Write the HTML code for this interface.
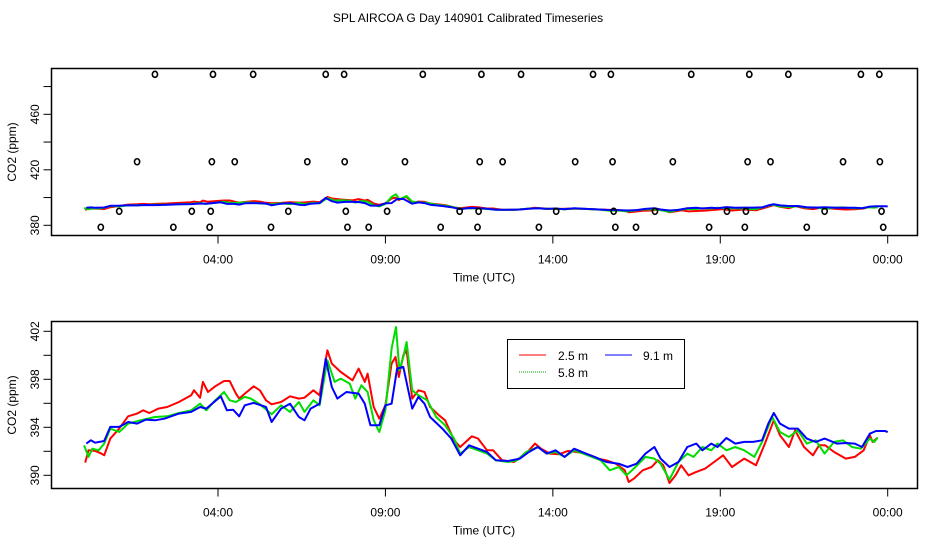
<!DOCTYPE html>
<html><head><meta charset="utf-8"><style>
body{margin:0;background:#fff;}
svg{display:block;font-family:"Liberation Sans",sans-serif;}
</style></head><body>
<svg id="chart" width="936" height="540" viewBox="0 0 936 540">
<rect width="936" height="540" fill="#fff"/>
<text x="468" y="22" text-anchor="middle" font-size="12">SPL AIRCOA G  Day 140901  Calibrated Timeseries</text>
<g id="top"></g>
<g id="bot"></g>
<g>
<rect x="507.5" y="339.5" width="177" height="49" fill="#fff" stroke="#000" stroke-width="1"/>
<line x1="519" y1="355" x2="546" y2="355" stroke="#ff0000" stroke-width="1"/>
<text x="558" y="360" font-size="12">2.5 m</text>
<line x1="605" y1="355" x2="632" y2="355" stroke="#0000ff" stroke-width="1"/>
<text x="643" y="360" font-size="12">9.1 m</text>
<line x1="519" y1="372" x2="546" y2="372" stroke="#00a000" stroke-width="1" stroke-dasharray="1,1"/>
<text x="558" y="377" font-size="12">5.8 m</text>
</g>
</svg>
<script>
// ---- data (time in minutes UTC, CO2 in ppm) ----
const redTime=[2,8,20,31,36,47,63,79,95,106,117,133,149,170,192,197,208,213,222,235,251,261,272,278,288,304,315,326,336,353,369,385,395,411,422,436,444,460,481,492,503,508,519,529,540,551,558,564,572,578,588,599,610,620,636,647,663,674,695,706,722,733,749,770,792,808,819,835,851,867,883,899,920,936,953,969,976,985,1001,1017,1028,1038,1049,1060,1070,1083,1097,1113,1129,1145,1161,1183,1204,1220,1236,1247,1263,1274,1290,1306,1317,1328,1344,1365,1381,1397,1408,1413,1422];
const redCO2=[391.06,392.08,392.03,391.81,391.67,393.06,393.89,394.92,395.14,395.42,395.19,395.56,395.69,396.11,396.67,397.08,396.47,397.78,396.94,397.42,397.86,397.86,396.81,396.39,396.81,397.42,397.08,396.25,395.92,396.11,396.58,396.39,396.47,397.08,396.67,400.42,399.31,398.61,397.92,398.89,397.78,398.47,395.69,394.72,395.83,399.31,399.86,398.19,400.0,400.42,396.39,397.08,396.94,395.69,395.0,394.58,392.92,392.36,393.25,393.06,392.08,392.08,391.25,391.11,391.81,392.64,392.22,391.81,391.75,392.03,391.94,391.81,391.39,391.25,390.97,390.42,389.44,389.72,390.42,390.69,391.25,390.83,389.36,390.0,390.83,390.0,390.28,390.56,391.11,391.67,390.69,391.39,390.83,392.64,394.58,393.33,392.36,393.75,392.36,391.67,392.5,392.5,391.94,391.39,391.53,392.08,393.33,392.78,393.14];
const greenTime=[0,8,15,26,36,47,63,79,101,127,149,170,192,208,219,235,251,261,272,288,299,315,336,353,369,385,395,411,422,436,449,460,476,486,497,508,519,529,540,551,559,565,572,578,588,599,615,631,647,663,674,690,706,722,738,760,776,792,813,829,845,861,878,894,910,926,942,958,972,985,1006,1022,1033,1049,1065,1081,1092,1108,1124,1135,1151,1167,1183,1201,1215,1233,1247,1263,1279,1295,1311,1327,1344,1360,1376,1392,1408,1416,1422];
const greenCO2=[392.5,391.53,392.22,392.08,392.64,393.89,393.61,394.31,394.58,394.86,394.92,395.19,395.42,395.97,395.42,396.25,396.94,396.25,396.11,396.53,396.39,395.92,395.08,395.83,395.28,396.11,395.28,396.25,395.83,399.58,397.78,398.06,397.64,396.39,397.5,396.94,394.58,393.61,395.42,400.56,402.36,398.75,399.86,401.11,397.08,396.67,396.25,394.86,394.17,393.06,391.81,392.36,392.08,391.81,391.25,391.11,391.25,391.94,392.36,391.81,391.94,391.53,392.08,391.81,391.53,391.25,390.42,390.69,390.0,390.56,391.53,391.39,390.97,389.64,391.11,391.81,391.53,392.36,392.08,392.64,392.08,392.36,392.08,391.53,392.78,394.86,393.61,393.19,393.75,392.64,392.92,391.81,392.78,392.92,392.36,392.22,393.06,392.78,393.14];
const blueTime=[4,12,20,36,47,63,79,95,111,127,144,170,192,208,219,245,256,267,278,288,304,326,336,353,369,385,395,406,422,433,444,454,470,492,503,513,529,540,551,561,572,588,599,610,620,642,658,674,690,706,722,738,760,781,797,813,829,845,861,878,899,915,936,958,974,990,1006,1022,1033,1049,1065,1081,1097,1108,1124,1135,1151,1167,1183,1199,1215,1226,1236,1247,1263,1279,1295,1311,1327,1349,1365,1381,1394,1408,1419,1435,1440];
const blueCO2=[392.64,392.92,392.72,392.86,394.03,394.03,394.44,394.31,394.64,394.58,394.72,395.14,395.28,395.69,395.56,396.58,395.42,395.47,394.92,395.83,396.03,395.69,394.44,395.56,395.97,394.86,394.58,395.56,395.97,399.72,397.36,396.39,396.94,396.81,395.97,394.17,394.17,395.83,395.97,398.89,399.03,395.56,396.53,395.97,394.86,393.89,393.06,391.67,392.5,392.22,391.94,391.25,391.19,391.39,391.94,392.36,391.81,392.08,391.53,392.22,391.81,391.53,391.11,390.97,390.69,390.97,391.81,392.36,391.39,390.69,391.11,392.36,392.64,392.08,392.64,392.36,393.11,392.64,392.78,392.78,392.92,394.31,395.19,394.31,393.89,393.89,393.06,392.78,393.06,392.64,392.69,392.64,392.36,393.47,393.69,393.69,393.61];
// flagged / out-of-range points shown as circles in the top panel
const flagTime=[127,231,303,433,466,607,712,783,912,944,1088,1192,1262,1392,1425, 95,229,270,400,467,575,709,750,880,947,1055,1189,1230,1360,1426, 63,193,227,366,469,543,673,707,846,949,1023,1152,1186,1327,1429, 30,160,225,335,472,510,639,705,815,952,989,1120,1184,1295,1432];
const flagCO2=[488.8,488.8,488.8,488.8,488.8,488.8,488.8,488.8,488.8,488.8,488.8,488.8,488.8,488.8,488.8, 425.8,425.8,425.8,425.8,425.8,425.8,425.8,425.8,425.8,425.8,425.8,425.8,425.8,425.8,425.8, 390.1,390.1,390.1,390.1,390.1,390.1,390.1,390.1,390.1,390.1,390.1,390.1,390.1,390.1,390.1, 378.6,378.6,378.6,378.6,378.6,378.6,378.6,378.6,378.6,378.6,378.6,378.6,378.6,378.6,378.6];
const xTickMin=[240,540,840,1140,1440];
const xTickLabels=["04:00","09:00","14:00","19:00","00:00"];
const topYTicks=[380,400,420,440,460,480];
const topYLabels=["380","","420","","460",""];
const botYTicks=[390,392,394,396,398,400,402];
const botYLabels=["390","","394","","398","","402"];

const NS="http://www.w3.org/2000/svg";
function mk(tag,attrs,parent){const e=document.createElementNS(NS,tag);for(const k in attrs)e.setAttribute(k,attrs[k]);parent.appendChild(e);return e;}
const xScale=m=>218+(m-240)*0.55808;

function panel(g,box,yScale,yTicks,yLabels,axisY,prefix){
  for(let i=0;i<xTickMin.length;i++){
    const x=xScale(xTickMin[i]);
    const t=mk('line',{x1:x,y1:box.b,x2:x,y2:box.b+8,stroke:'#000','stroke-width':1},g);
    
    
    const l=mk('text',{x:x,y:box.b+28,'text-anchor':'middle','font-size':12},g);
    l.textContent=xTickLabels[i];
    
    
  }
  for(let i=0;i<yTicks.length;i++){
    const y=yScale(yTicks[i]);
    const t=mk('line',{x1:box.l-8,y1:y,x2:box.l,y2:y,stroke:'#000','stroke-width':1},g);
    
    
    if(yLabels[i]){
      const l=mk('text',{x:0,y:0,'text-anchor':'middle','font-size':12,transform:'translate(39,'+y+') rotate(-90)'},g);
      l.textContent=yLabels[i];
      
      
    }
  }
  const xt=mk('text',{x:484,y:box.b+46,'text-anchor':'middle','font-size':12},g);
  xt.textContent='Time (UTC)';
  
  
  const yt=mk('text',{x:0,y:0,'text-anchor':'middle','font-size':12,transform:'translate(16,'+axisY+') rotate(-90)'},g);
  yt.textContent='CO2 (ppm)';
  
  
  const series=[[redTime,redCO2,'#ff0000','red-2-5m'],[greenTime,greenCO2,'#00dd00','green-5-8m'],[blueTime,blueCO2,'#0000ff','blue-9-1m']];
  for(const s of series){
    let d='';
    for(let i=0;i<s[0].length;i++)d+=(i?'L':'M')+xScale(s[0][i]).toFixed(1)+','+yScale(s[1][i]).toFixed(1);
    const p=mk('path',{d:d,fill:'none',stroke:s[2],'stroke-width':2,'stroke-linejoin':'round'},g);
    
    
  }
  const r=mk('rect',{x:box.l,y:box.t,width:box.r-box.l,height:box.b-box.t,fill:'none',stroke:'#000','stroke-width':1.5},g);
  
  
}

const topG=document.getElementById('top');
const topY=v=>225.3-(v-380)*1.3875;
panel(topG,{l:51.5,r:917.5,t:68.5,b:235.5},topY,topYTicks,topYLabels,152,'top');
for(let i=0;i<flagTime.length;i++){
  const c=mk('ellipse',{cx:xScale(flagTime[i]),cy:topY(flagCO2[i]),rx:2.6,ry:3,fill:'none',stroke:'#000','stroke-width':1.6},topG);
  
  
}
const botG=document.getElementById('bot');
const botY=v=>475.3-(v-390)*12;
panel(botG,{l:51.5,r:917.5,t:321.5,b:488.5},botY,botYTicks,botYLabels,405,'bottom');
</script>
</body></html>
